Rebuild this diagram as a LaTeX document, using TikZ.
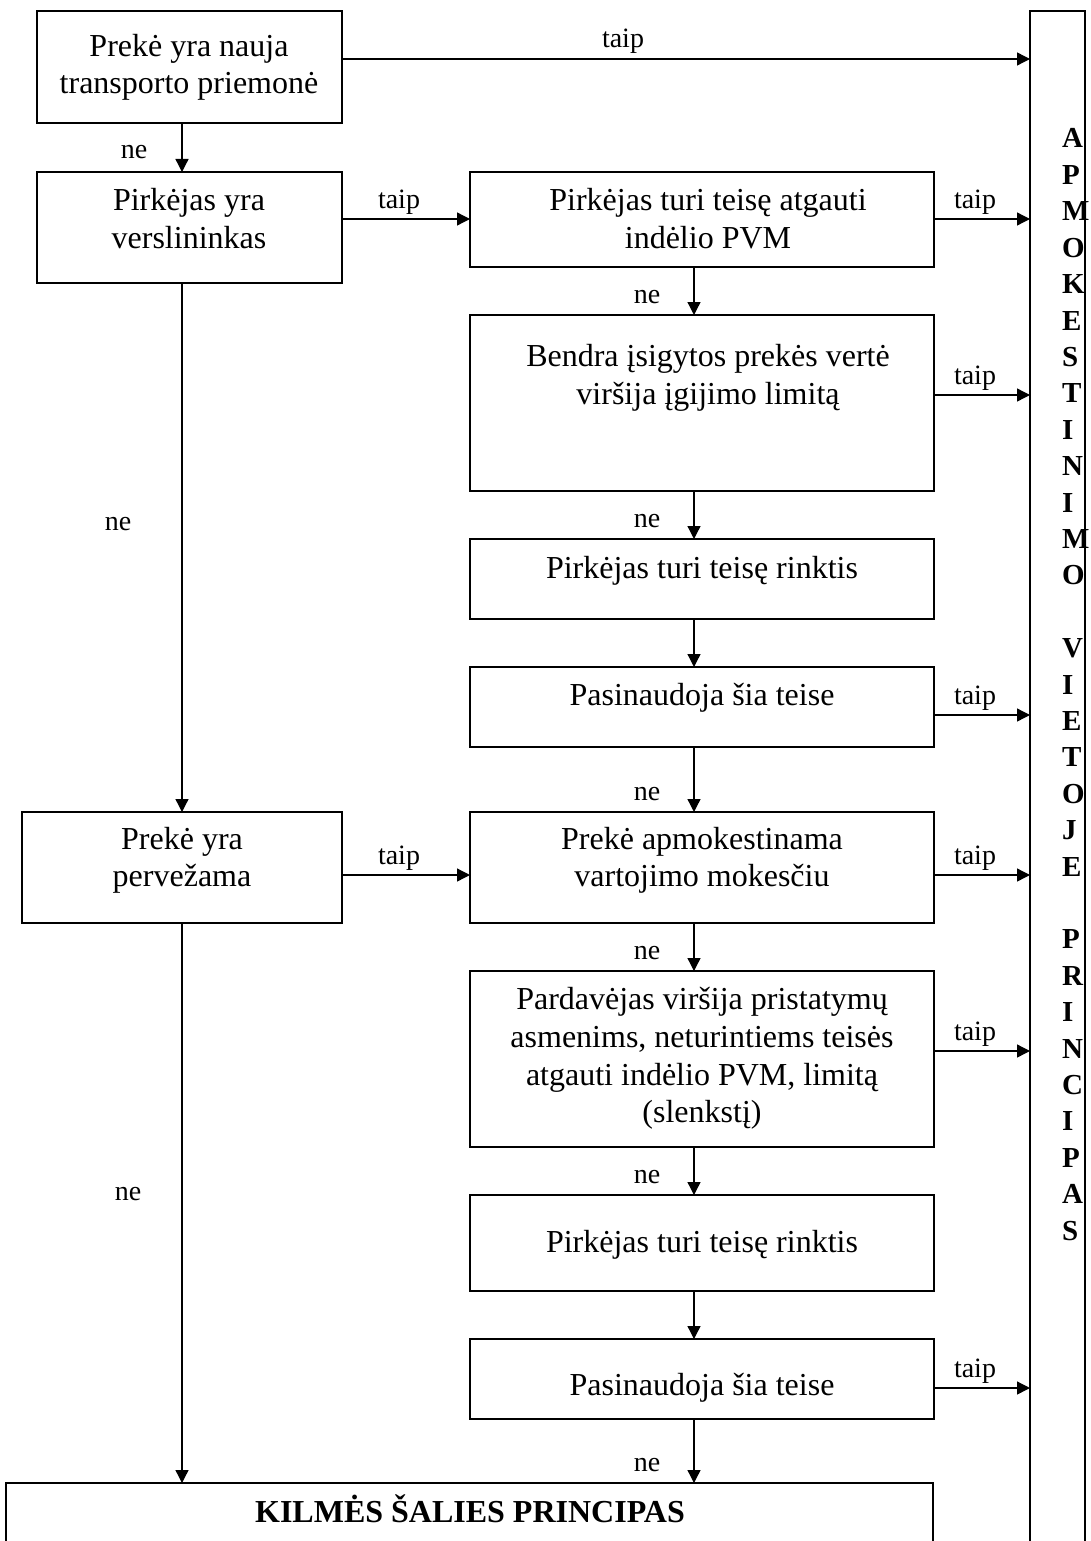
\documentclass[tikz,border=0pt]{standalone}
\usepackage{fontspec}
\setmainfont{Liberation Serif}
\usetikzlibrary{arrows.meta}
\tikzset{
  box/.style={draw, line width=1.6pt, inner sep=0pt, outer sep=0pt, anchor=north west},
  arr/.style={line width=1.3pt, -{Triangle[length=13pt,width=13pt]}},
  txt/.style={anchor=base, inner sep=0pt, font=\fontsize{32}{37}\selectfont},
  btxt/.style={anchor=base, inner sep=0pt, font=\fontsize{32}{37}\selectfont\bfseries},
  lbl/.style={anchor=base, inner sep=0pt, font=\fontsize{28}{32}\selectfont},
  vl/.style={anchor=base west, inner sep=0pt, font=\fontsize{29}{36}\selectfont\bfseries},
}
\begin{document}
\begin{tikzpicture}[x=1pt,y=-1pt]
\useasboundingbox (0,0) rectangle (1090,1541);
\clip (0,0) rectangle (1090,1541);
\coordinate (cL) at (182,0);
\coordinate (cR) at (694,0);

% boxes
\node[box, minimum width=305pt, minimum height=112pt] (b1) at (37,11) {};
\node[box, minimum width=305pt, minimum height=111pt] (b2) at (37,172) {};
\node[box, minimum width=464pt, minimum height=95pt]  (b3) at (470,172) {};
\node[box, minimum width=464pt, minimum height=176pt] (b4) at (470,315) {};
\node[box, minimum width=464pt, minimum height=80pt]  (b5) at (470,539) {};
\node[box, minimum width=464pt, minimum height=80pt]  (b6) at (470,667) {};
\node[box, minimum width=464pt, minimum height=111pt] (b7) at (470,812) {};
\node[box, minimum width=320pt, minimum height=111pt] (b8) at (22,812) {};
\node[box, minimum width=464pt, minimum height=176pt] (b9) at (470,971) {};
\node[box, minimum width=464pt, minimum height=96pt]  (b10) at (470,1195) {};
\node[box, minimum width=464pt, minimum height=80pt]  (b11) at (470,1339) {};
\node[box, minimum width=927pt, minimum height=120pt] (bx) at (6,1483) {};

% texts
\node[txt] (t1a) at (189,57) {Prekė yra nauja};
\node[txt] (t1b) at (189,94) {transporto priemonė};
\node[txt] (t2a) at (189,211) {Pirkėjas yra};
\node[txt] (t2b) at (189,248) {verslininkas};
\node[txt] (t3a) at (708,211) {Pirkėjas turi teisę atgauti};
\node[txt] (t3b) at (708,248) {indėlio PVM};
\node[txt] (t4a) at (708,366) {Bendra įsigytos prekės vertė};
\node[txt] (t4b) at (708,404) {viršija įgijimo limitą};
\node[txt] (t5) at (702,578) {Pirkėjas turi teisę rinktis};
\node[txt] (t6) at (702,705) {Pasinaudoja šia teise};
\node[txt] (t7a) at (702,849) {Prekė apmokestinama};
\node[txt] (t7b) at (702,886) {vartojimo mokesčiu};
\node[txt] (t8a) at (182,849) {Prekė yra};
\node[txt] (t8b) at (182,886) {pervežama};
\node[txt] (t9a) at (702,1009) {Pardavėjas viršija pristatymų};
\node[txt] (t9b) at (702,1047) {asmenims, neturintiems teisės};
\node[txt] (t9c) at (702,1085) {atgauti indėlio PVM, limitą};
\node[txt] (t9d) at (702,1122) {(slenkstį)};
\node[txt] (t10) at (702,1252) {Pirkėjas turi teisę rinktis};
\node[txt] (t11) at (702,1395) {Pasinaudoja šia teise};
\node[btxt] (tx) at (470,1522) {KILMĖS ŠALIES PRINCIPAS};

% vertical letters
\foreach \ch [count=\i from 0] in {A,P,M,O,K,E,S,T,I,N,I,M,O}
  {\node[vl] (va\i) at (1062,{148+36.4*\i}) {\ch};}
\foreach \ch [count=\i from 14] in {V,I,E,T,O,J,E}
  {\node[vl] (vb\i) at (1062,{148+36.4*\i}) {\ch};}
\foreach \ch [count=\i from 22] in {P,R,I,N,C,I,P,A,S}
  {\node[vl] (vc\i) at (1062,{148+36.4*\i}) {\ch};}
\node[box, minimum width=55pt, minimum height=1600pt] (rt) at (1030,11) {};

% connectors
\draw[arr] (b1.south -| cL) -- (b2.north -| cL);
\draw[arr] (b1.east |- 0,59) -- (rt.west |- 0,59);
\draw[arr] (b2.east |- 0,219) -- (b3.west |- 0,219);
\draw[arr] (b3.east |- 0,219) -- (rt.west |- 0,219);
\draw[arr] (b3.south -| cR) -- (b4.north -| cR);
\draw[arr] (b4.east |- 0,395) -- (rt.west |- 0,395);
\draw[arr] (b4.south -| cR) -- (b5.north -| cR);
\draw[arr] (b5.south -| cR) -- (b6.north -| cR);
\draw[arr] (b6.east |- 0,715) -- (rt.west |- 0,715);
\draw[arr] (b6.south -| cR) -- (b7.north -| cR);
\draw[arr] (b2.south -| cL) -- (b8.north -| cL);
\draw[arr] (b8.east |- 0,875) -- (b7.west |- 0,875);
\draw[arr] (b7.east |- 0,875) -- (rt.west |- 0,875);
\draw[arr] (b7.south -| cR) -- (b9.north -| cR);
\draw[arr] (b9.east |- 0,1051) -- (rt.west |- 0,1051);
\draw[arr] (b9.south -| cR) -- (b10.north -| cR);
\draw[arr] (b10.south -| cR) -- (b11.north -| cR);
\draw[arr] (b11.east |- 0,1388) -- (rt.west |- 0,1388);
\draw[arr] (b11.south -| cR) -- (bx.north -| cR);
\draw[arr] (b8.south -| cL) -- (bx.north -| cL);

% labels
\node[lbl] (l1) at (134,159) {ne};
\node[lbl] (l2) at (623,48) {taip};
\node[lbl] (l3) at (399,208) {taip};
\node[lbl] (l4) at (975,208) {taip};
\node[lbl] (l5) at (647,303) {ne};
\node[lbl] (l6) at (975,384) {taip};
\node[lbl] (l7) at (647,527) {ne};
\node[lbl] (l8) at (975,704) {taip};
\node[lbl] (l9) at (647,800) {ne};
\node[lbl] (l10) at (118,530) {ne};
\node[lbl] (l11) at (399,864) {taip};
\node[lbl] (l12) at (975,864) {taip};
\node[lbl] (l13) at (647,959) {ne};
\node[lbl] (l14) at (975,1040) {taip};
\node[lbl] (l15) at (647,1183) {ne};
\node[lbl] (l16) at (975,1377) {taip};
\node[lbl] (l17) at (647,1471) {ne};
\node[lbl] (l18) at (128,1200) {ne};
\end{tikzpicture}
\end{document}
